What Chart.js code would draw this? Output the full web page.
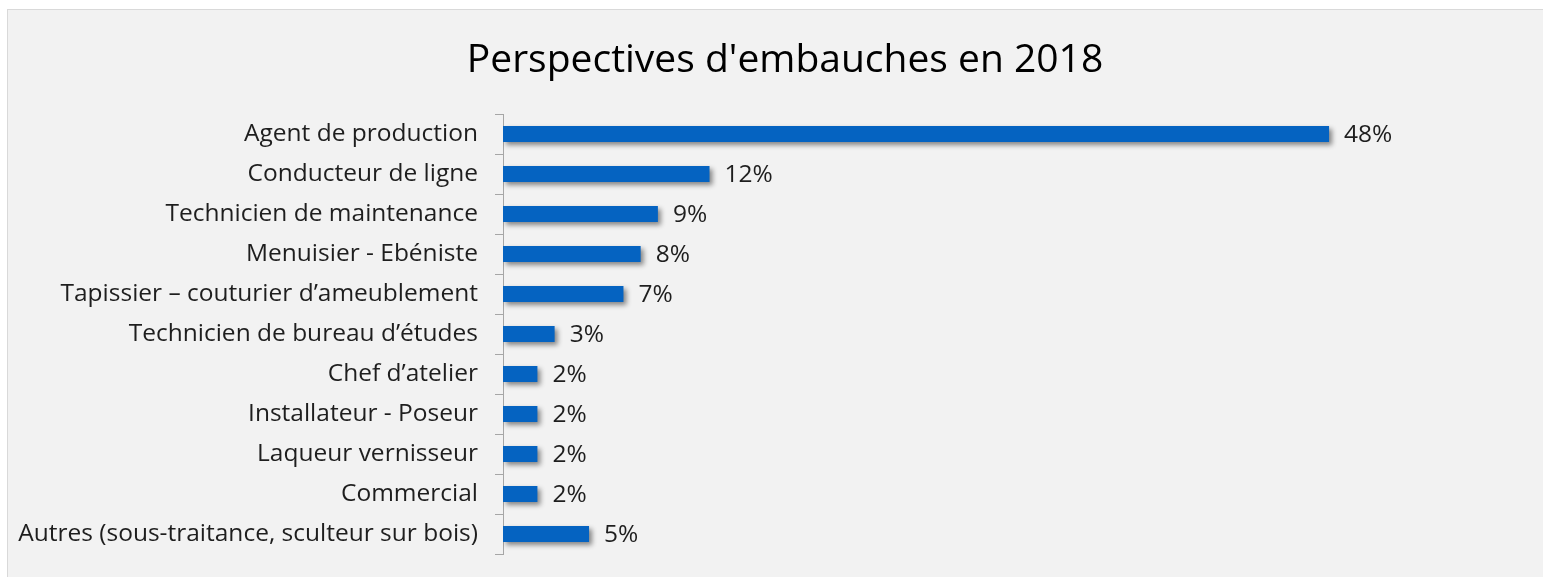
<!DOCTYPE html>
<html>
<head>
<meta charset="utf-8">
<script src="https://cdn.jsdelivr.net/npm/chart.js@4.4.1/dist/chart.umd.min.js"></script>
<style>
  html, body { margin: 0; padding: 0; background: #ffffff; overflow: hidden; }
  #panel {
    position: absolute; left: 7px; top: 9px; width: 1600px; height: 620px;
    background: #f2f2f2; border: 1px solid #d9d9d9;
  }
  #hiring-chart { position: absolute; left: 0; top: 0; }
</style>
</head>
<body>
<div id="panel"></div>
<canvas id="hiring-chart" width="1570" height="577"></canvas>
<script>
const jobs = [
    'Agent de production',
    'Conducteur de ligne',
    'Technicien de maintenance',
    'Menuisier - Ebéniste',
    'Tapissier \u2013 couturier d\u2019ameublement',
    'Technicien de bureau d\u2019études',
    'Chef d\u2019atelier',
    'Installateur - Poseur',
    'Laqueur vernisseur',
    'Commercial',
    'Autres (sous-traitance, sculteur sur bois)'
];
const shares = [48, 12, 9, 8, 7, 3, 2, 2, 2, 2, 5];

const FONT = "'Open Sans', 'Noto Sans', sans-serif";
const barBlue = '#0563c1';
const textColor = '#1e1e1e';

// soft drop shadow under the bars
const barShadow = {
    id: 'barShadow',
    beforeDatasetsDraw(chart) {
        const ctx = chart.ctx;
        ctx.save();
        ctx.shadowColor = 'rgba(0,0,0,0.45)';
        ctx.shadowBlur = 5;
        ctx.shadowOffsetX = 3;
        ctx.shadowOffsetY = 3;
    },
    afterDatasetsDraw(chart) {
        chart.ctx.restore();
    }
};

// percentage next to each bar
const valueLabels = {
    id: 'valueLabels',
    afterDatasetsDraw(chart) {
        const ctx = chart.ctx;
        const meta = chart.getDatasetMeta(0);
        ctx.save();
        ctx.font = '24.5px ' + FONT;
        ctx.fillStyle = textColor;
        ctx.textAlign = 'left';
        ctx.textBaseline = 'middle';
        meta.data.forEach((bar, i) => {
            ctx.fillText(shares[i] + '%', bar.x + 15, bar.y + 1);
        });
        ctx.restore();
    }
};

new Chart(document.getElementById('hiring-chart'), {
    type: 'bar',
    data: {
        labels: jobs,
        datasets: [{
            data: shares,
            backgroundColor: barBlue,
            borderWidth: 0,
            categoryPercentage: 1,
            barPercentage: 0.4
        }]
    },
    options: {
        indexAxis: 'y',
        responsive: false,
        maintainAspectRatio: false,
        animation: false,
        layout: { padding: { left: 0, right: 0, top: 0, bottom: 23 } },
        plugins: {
            legend: { display: false },
            tooltip: { enabled: false },
            title: {
                display: true,
                text: "Perspectives d'embauches en 2018",
                color: '#000000',
                font: { family: FONT, size: 39, weight: 'normal' },
                padding: { top: 37.5, bottom: 29.7 }
            }
        },
        scales: {
            x: { display: false, min: 0, max: 62 },
            y: {
                afterFit(scale) {
                    scale.width = 503;
                    scale.paddingTop = 0;
                    scale.paddingBottom = 0;
                },
                grid: {
                    drawOnChartArea: false,
                    tickLength: 8,
                    color: '#a6a6a6',
                    offset: true
                },
                border: { display: true, color: '#a6a6a6' },
                ticks: {
                    color: textColor,
                    padding: 17,
                    font: { family: FONT, size: 24.5 }
                }
            }
        }
    },
    plugins: [barShadow, valueLabels]
});
</script>
</body>
</html>
